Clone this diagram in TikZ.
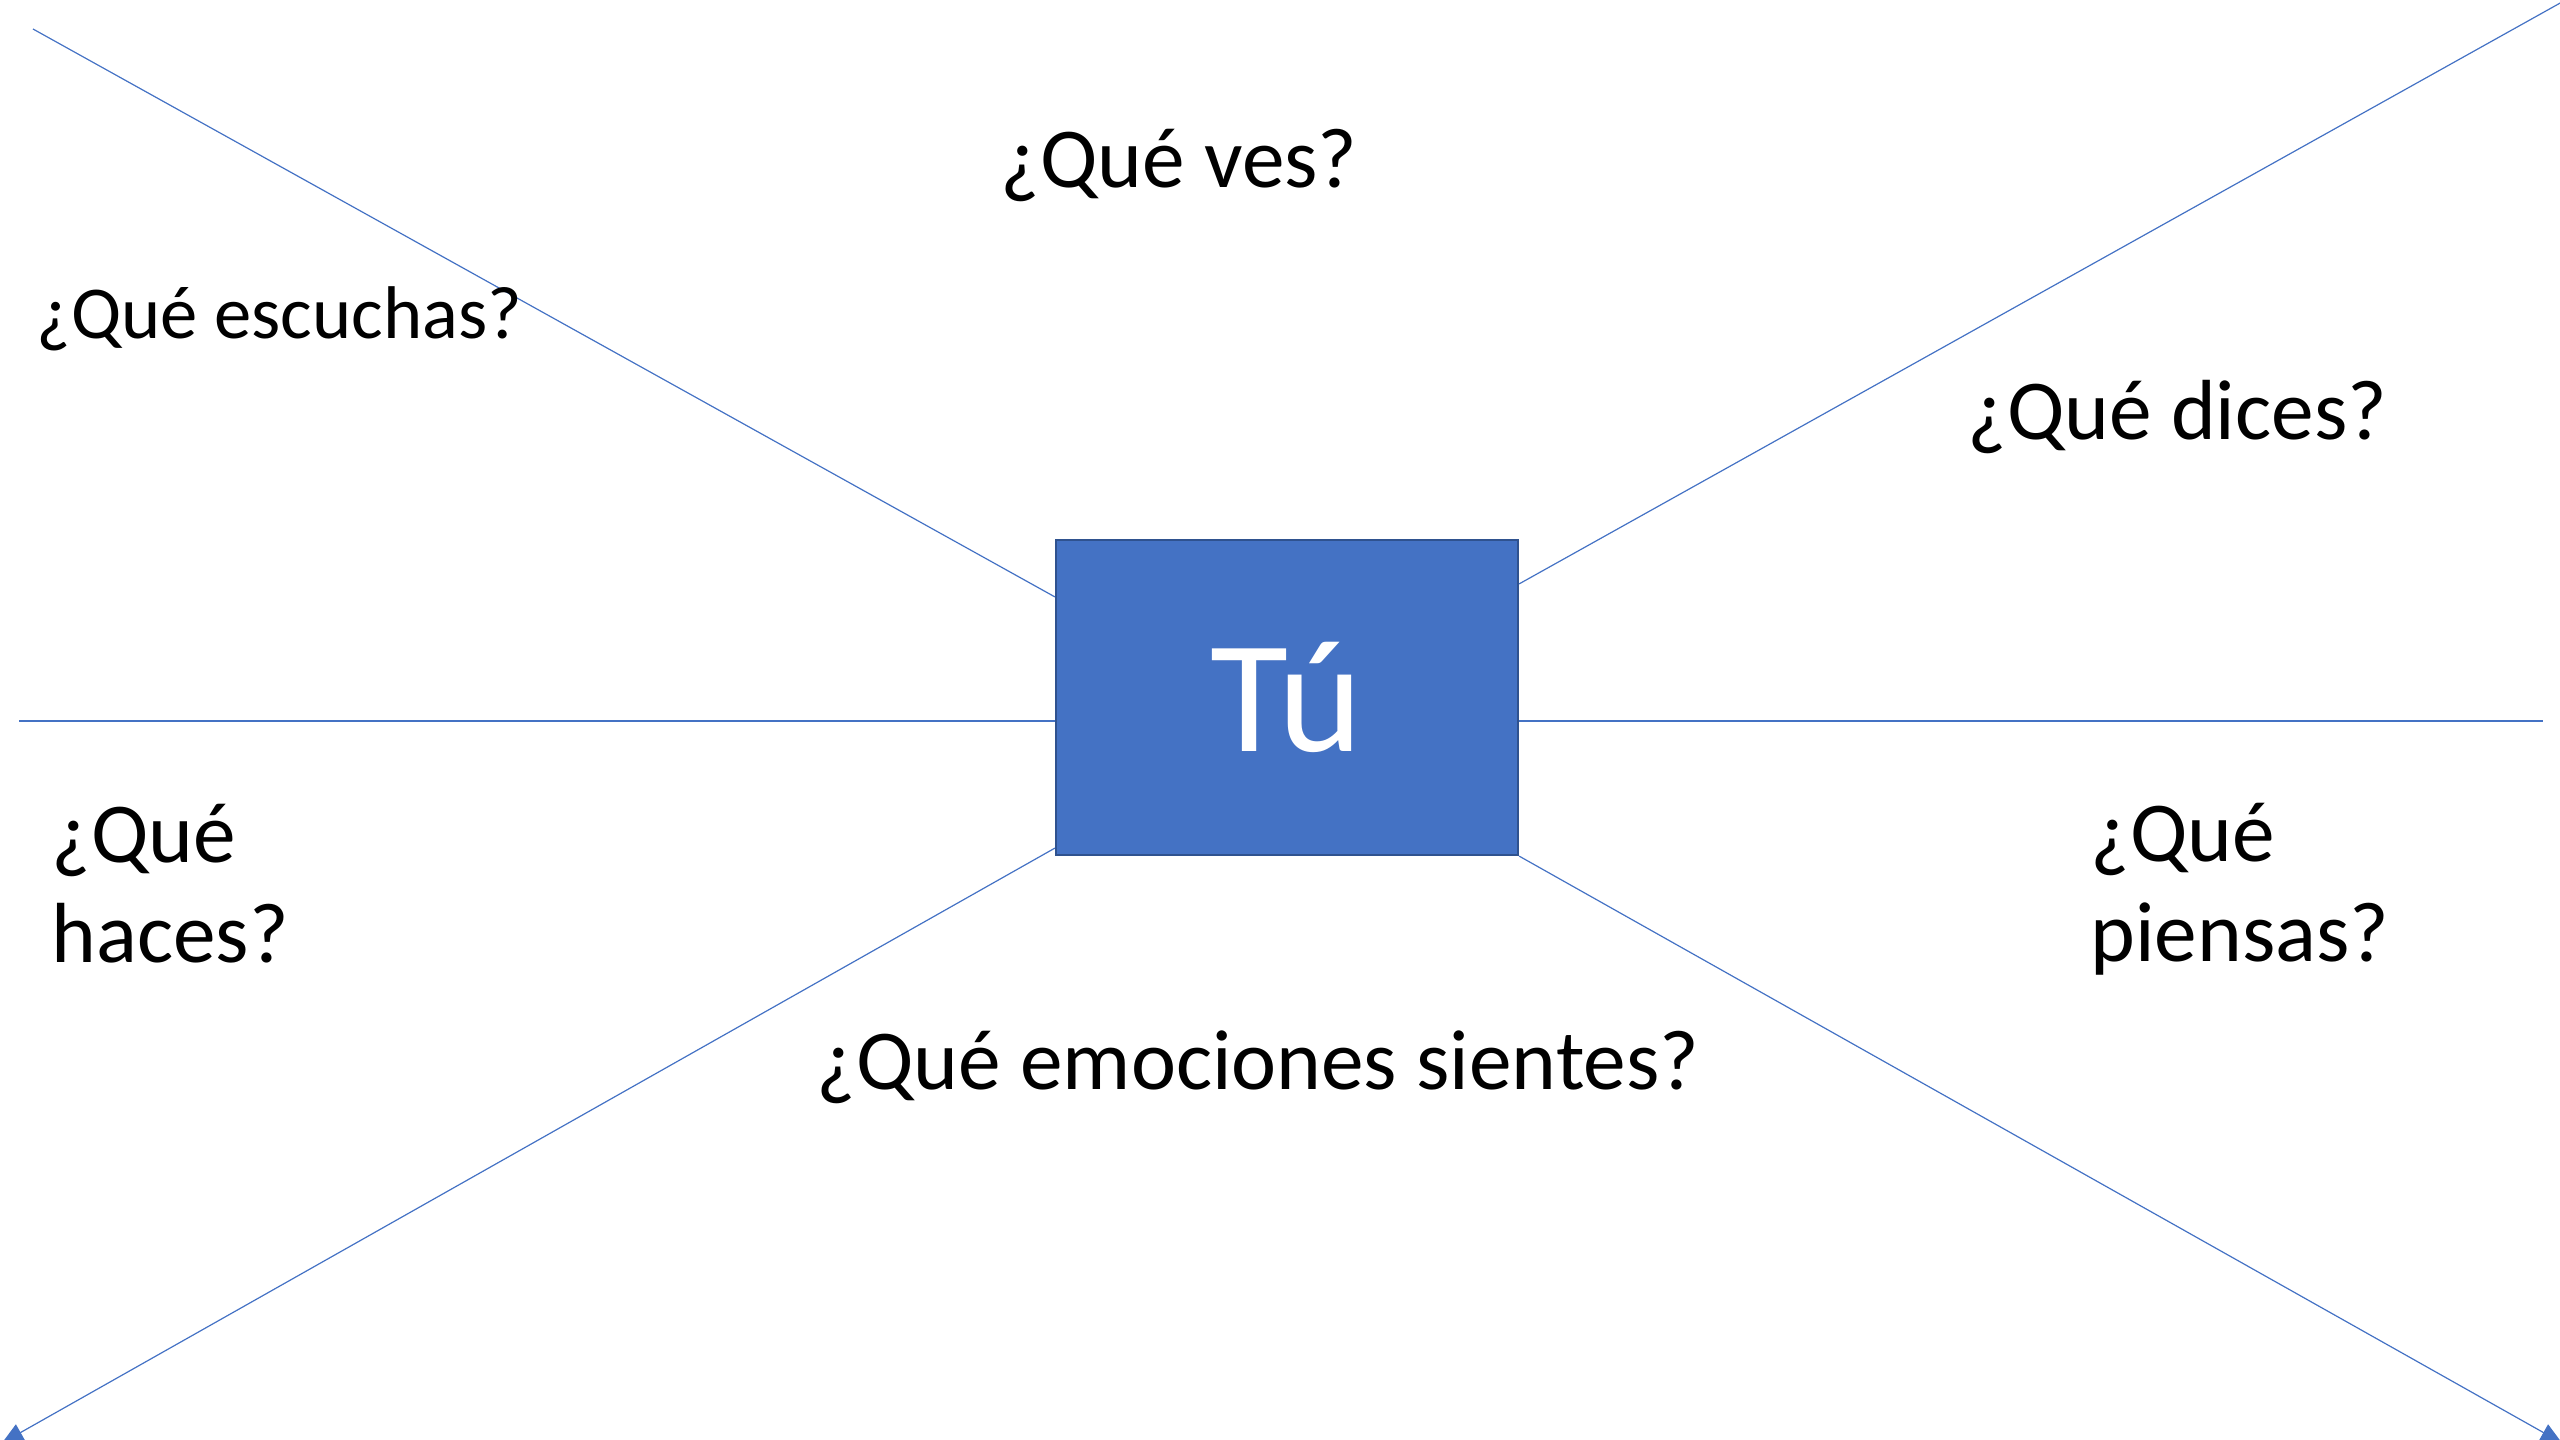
\documentclass[tikz,border=0pt]{standalone}
\usepackage{fontspec}
\setmainfont{Carlito}
\usetikzlibrary{calc,arrows.meta}
\definecolor{accent}{HTML}{4472C4}
\definecolor{accentdark}{HTML}{2F528F}
\tikzset{
  ray/.style={draw=accent, line width=0.45pt},
  rayarrow/.style={ray, -{Triangle[length=8pt,width=7pt]}},
  question/.style={inner sep=0pt, anchor=west, align=left, font=\fontsize{32}{37.5}\selectfont},
  centerbox/.style={draw=accentdark, line width=0.8pt, fill=accent, text=white,
    minimum width=462*0.375pt, minimum height=315*0.375pt, inner sep=0pt,
    font=\fontsize{60}{72}\selectfont}
}
\begin{document}
\begin{tikzpicture}[x=0.375pt,y=-0.375pt]
\useasboundingbox (0,0) rectangle (2560,1440);
\node[centerbox] (tu) at (1287,697.5) {Tú};
% outer free ends
\coordinate (tl) at (33,29);
\coordinate (tr) at (2562,2);
\coordinate (ml) at (19,721);
\coordinate (mr) at (2543,721);
\coordinate (bl) at (2,1443);
\coordinate (br) at (2562,1443);
% box ends
\coordinate (tuTL) at ($(tu.north west)+(0,58)$);
\coordinate (tuTR) at ($(tu.north east)+(0,45)$);
\coordinate (tuML) at (tu.west |- ml);
\coordinate (tuMR) at (tu.east |- mr);
\coordinate (tuBL) at ($(tu.south west)+(0,-8)$);
\coordinate (tuBR) at (tu.south east);
\draw[ray] (tl) -- (tuTL);
\draw[ray] (tuTR) -- (tr);
\draw[ray] (ml) -- (tuML);
\draw[ray] (tuMR) -- (mr);
\draw[rayarrow] (tuBL) -- (bl);
\draw[rayarrow] (tuBR) -- (br);
% questions
\node[question, anchor=center] (ves) at (1179,166) {¿Qué ves?};
\node[question, font=\fontsize{28}{33}\selectfont] (escuchas) at (36,319) {¿Qué escuchas?};
\node[question] (dices) at (1967,417) {¿Qué dices?};
\node[question] (haces) at (51,884) {¿Qué\\haces?};
\node[question] (piensas) at (2090,889) {¿Qué\\piensas?};
\node[question, anchor=center] (emociones) at (1258,1067) {¿Qué emociones sientes?};
\end{tikzpicture}
\end{document}
